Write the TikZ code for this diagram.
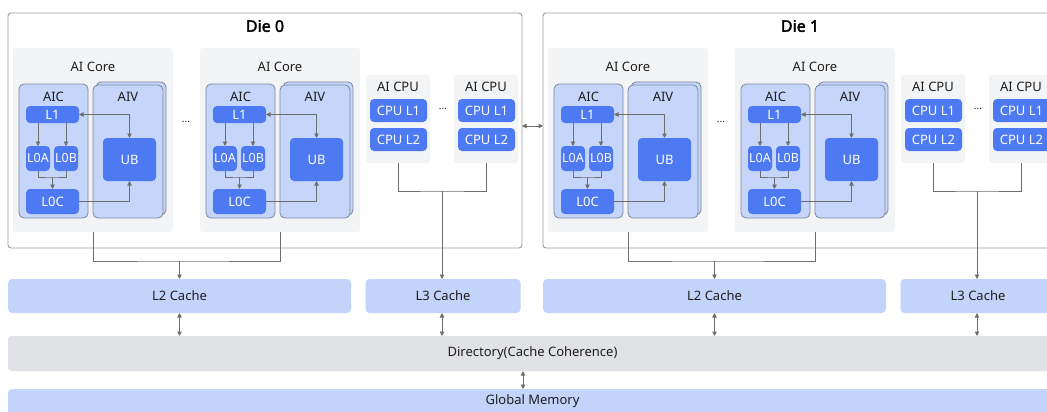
\documentclass[tikz,border=0pt]{standalone}
\usepackage{fontspec}
\setmainfont{Noto Sans}[AutoFakeBold=2.2]
\usetikzlibrary{arrows.meta}

\definecolor{dieborder}{HTML}{9C9C9C}
\definecolor{coregray}{HTML}{F3F4F6}
\definecolor{unitblue}{HTML}{C6D6FB}
\definecolor{unitborder}{HTML}{7D8699}
\definecolor{memblue}{HTML}{4D79F2}
\definecolor{cacheblue}{HTML}{C3D4FB}
\definecolor{dirgray}{HTML}{E1E2E5}
\definecolor{linkgray}{HTML}{6E6E6E}
\definecolor{txt}{HTML}{1E1E1E}

\tikzset{
  box/.style={rectangle, inner sep=0pt, outer sep=0pt},
  diebox/.style={box, draw=dieborder, line width=0.9pt, rounded corners=3pt, fill=white},
  corebox/.style={box, fill=coregray, rounded corners=3pt},
  unitbox/.style={box, fill=unitblue, draw=unitborder, line width=0.8pt, rounded corners=5pt},
  membox/.style={box, fill=memblue, text=white, rounded corners=4pt, font=\fontsize{13}{15}\selectfont},
  cachebox/.style={box, fill=cacheblue, rounded corners=4pt, text=txt, font=\fontsize{13}{15}\selectfont},
  dirbox/.style={box, fill=dirgray, rounded corners=3pt, text=txt, font=\fontsize{13}{15}\selectfont},
  lbl/.style={inner sep=0pt, text=txt, font=\fontsize{13}{15}\selectfont},
  title/.style={inner sep=0pt, text=black, font=\fontsize{16}{18}\selectfont\bfseries},
  dots/.style={inner sep=0pt, text=txt, font=\fontsize{10}{12}\selectfont},
  link/.style={draw=linkgray, line width=0.9pt},
  arr/.style={link, -{Triangle[length=4.5pt,width=4.5pt]}},
  darr/.style={link, {Triangle[length=4.5pt,width=4.5pt]}-{Triangle[length=4.5pt,width=4.5pt]}},
}

\begin{document}
\begin{tikzpicture}[x=1pt,y=-1pt]
\useasboundingbox (0,0) rectangle (1047,412);
\clip (0,0) rectangle (1047,412);

% dies
\node[diebox, minimum width=514, minimum height=235] (die0) at (265,130.5) {};
\node[diebox, minimum width=514, minimum height=235] (die1) at (800,130.5) {};
\node[title] (t0) at (265,26) {Die 0};
\node[title] (t1) at (800,26) {Die 1};
\coordinate (dd) at (0,126);
\draw[darr] (die0.east |- dd) -- (die1.west |- dd);

% AI Cores
\foreach \n/\ox in {a/0, b/187, c/535, d/722}{
  \begin{scope}[xshift=\ox pt]
    \node[corebox, minimum width=160, minimum height=184] (core\n) at (93,140) {};
    \node[lbl] (corelbl\n) at (93,67) {AI Core};
    \node[unitbox, minimum width=69, minimum height=134] (aic\n) at (53.5,151) {};
    \node[lbl] (aiclbl\n) at (53.5,97) {AIC};
    \node[unitbox, minimum width=70, minimum height=133] (aivback\n) at (131,148.5) {};
    \node[unitbox, minimum width=70, minimum height=133] (aiv\n) at (128,151.5) {};
    \node[lbl] (aivlbl\n) at (128,97) {AIV};
    \node[membox, minimum width=53, minimum height=17] (l1\n) at (52.5,114.5) {L1};
    \node[membox, minimum width=24, minimum height=25, font=\fontsize{12.5}{14}\selectfont] (l0a\n) at (38,158.5) {L0A};
    \node[membox, minimum width=24, minimum height=25, font=\fontsize{12.5}{14}\selectfont] (l0b\n) at (66,158.5) {L0B};
    \node[membox, minimum width=53, minimum height=25] (l0c\n) at (52.5,201.5) {L0C};
    \node[membox, minimum width=53, minimum height=43] (ub\n) at (129.5,159.5) {UB};
    \coordinate (m\n) at (52.5,177);
    \draw[darr] (l1\n.east) -| (ub\n.north);
    \draw[arr] (l0a\n.north |- l1\n.south) -- (l0a\n.north);
    \draw[arr] (l0b\n.north |- l1\n.south) -- (l0b\n.north);
    \draw[link] (l0a\n.south) |- (m\n) -| (l0b\n.south);
    \draw[arr] (m\n) -- (l0c\n.north);
    \draw[arr] (l0c\n.east) -| (ub\n.south);
  \end{scope}
}
\node[dots] (dotsa) at (186,122) {...};
\node[dots] (dotsb) at (721,122) {...};

% AI CPUs
\foreach \n/\ox in {a/0, b/88, c/535, d/623}{
  \begin{scope}[xshift=\ox pt]
    \node[corebox, minimum width=64, minimum height=88] (cpu\n) at (398,119) {};
    \node[lbl] (cpulbl\n) at (398,87) {AI CPU};
    \node[membox, minimum width=57, minimum height=23] (cl1\n) at (398.5,110.5) {CPU L1};
    \node[membox, minimum width=57, minimum height=23] (cl2\n) at (398.5,139.5) {CPU L2};
  \end{scope}
}
\node[dots] (dotsc) at (443,109) {...};
\node[dots] (dotsd) at (978,109) {...};

% caches
\node[cachebox, minimum width=343, minimum height=34] (l2a) at (179.5,296) {L2 Cache};
\node[cachebox, minimum width=155, minimum height=34] (l3a) at (443,296) {L3 Cache};
\node[cachebox, minimum width=343, minimum height=34] (l2b) at (714.5,296) {L2 Cache};
\node[cachebox, minimum width=155, minimum height=34] (l3b) at (978,296) {L3 Cache};

\node[dirbox, minimum width=1049, minimum height=35] (dir) at (532.5,353.5) {Directory(Cache Coherence)};
\node[cachebox, minimum width=1049, minimum height=42, text depth=0pt] (gm) at (532.5,410) {};
\node[lbl] (gmlbl) at (532.5,401) {Global Memory};

% core groups to L2
\coordinate (ja) at (179.5,261);
\coordinate (jb) at (714.5,261);
\draw[link] (corea.south) |- (ja) -| (coreb.south);
\draw[arr] (ja) -- (ja |- l2a.north);
\draw[link] (corec.south) |- (jb) -| (cored.south);
\draw[arr] (jb) -- (jb |- l2b.north);

% CPU groups to L3
\coordinate (ka) at (442,191);
\coordinate (kb) at (977,191);
\draw[link] (cpua.south) |- (ka) -| (cpub.south);
\draw[arr] (ka) -- (ka |- l3a.north);
\draw[link] (cpuc.south) |- (kb) -| (cpud.south);
\draw[arr] (kb) -- (kb |- l3b.north);

% caches to directory
\draw[darr] (l2a.south) -- (l2a.south |- dir.north);
\draw[darr] (l3a.south -| ka) -- (ka |- dir.north);
\draw[darr] (l2b.south) -- (l2b.south |- dir.north);
\draw[darr] (l3b.south -| kb) -- (kb |- dir.north);

% directory to global memory
\coordinate (g) at (523,0);
\draw[darr] (dir.south -| g) -- (gm.north -| g);
\end{tikzpicture}
\end{document}
